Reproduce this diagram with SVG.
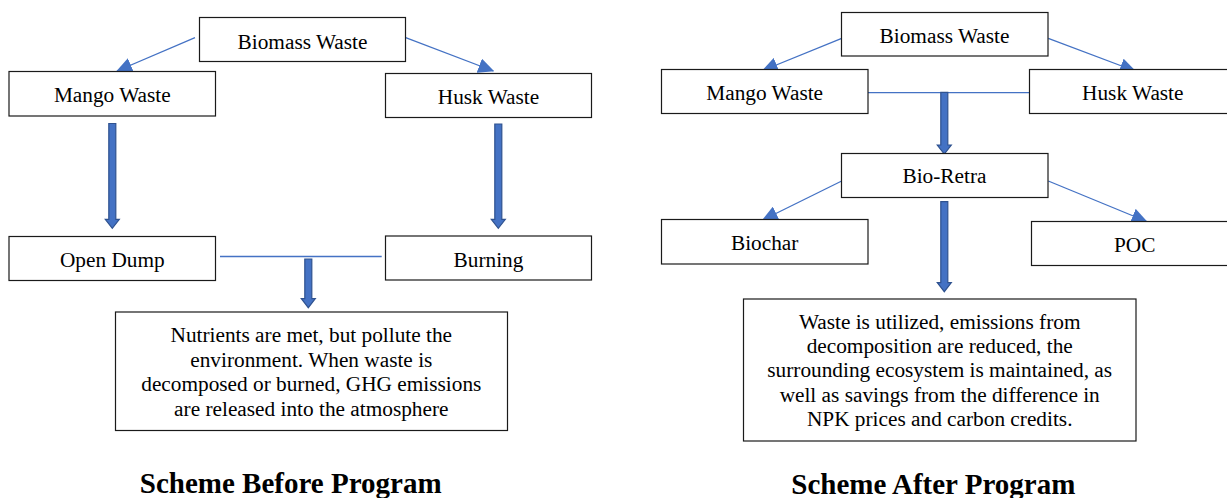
<svg xmlns="http://www.w3.org/2000/svg" width="1227" height="498" viewBox="0 0 1227 498">
<defs>
<style>
.box{fill:#fff;stroke:#1a1a1a;stroke-width:1.2}
.lbl{font-family:'Liberation Serif',Tinos,'DejaVu Serif',serif;font-size:21.3px;fill:#000;text-anchor:middle}
.ttl{font-family:'Liberation Serif',Tinos,'DejaVu Serif',serif;font-size:29px;font-weight:bold;fill:#000;text-anchor:middle}
.thin{stroke:#4472C4;stroke-width:1.3;fill:none}
.thick{fill:#4472C4;stroke:#2F528F;stroke-width:1.2}
</style>
<marker id="ah" viewBox="0 0 16 15" refX="15" refY="7.5" markerWidth="16" markerHeight="15" markerUnits="userSpaceOnUse" orient="auto">
<path d="M0,0 L16,7.5 L0,15 z" fill="#4472C4"/>
</marker>
</defs>
<rect width="1227" height="498" fill="#fff"/>
<g id="connectors">
<line class="thin" x1="195" y1="37.7" x2="117" y2="71" marker-end="url(#ah)"/>
<line class="thin" x1="405.7" y1="37.7" x2="493.3" y2="71" marker-end="url(#ah)"/>
<path class="thick" d="M108.8,123.5 H115.8 V219.3 H119.3 L112.3,228.3 L105.3,219.3 H108.8 Z"/>
<path class="thick" d="M494.8,124 H501.8 V219.3 H505.3 L498.3,228.3 L491.3,219.3 H494.8 Z"/>
<line class="thin" x1="220" y1="256.5" x2="381.7" y2="256.5"/>
<path class="thick" d="M304.8,259 H311.8 V298.7 H315.3 L308.3,307.7 L301.3,298.7 H304.8 Z"/>
<line class="thin" x1="841.7" y1="38.3" x2="762.7" y2="70.5" marker-end="url(#ah)"/>
<line class="thin" x1="1048.3" y1="38.3" x2="1135" y2="71" marker-end="url(#ah)"/>
<line class="thin" x1="868" y1="92.7" x2="1029.5" y2="92.7"/>
<path class="thick" d="M940.8,92.3 H947.8 V145 H951.3 L944.3,154 L937.3,145 H940.8 Z"/>
<line class="thin" x1="841.7" y1="181" x2="762.7" y2="220" marker-end="url(#ah)"/>
<line class="thin" x1="1048.3" y1="181" x2="1146.7" y2="221.5" marker-end="url(#ah)"/>
<path class="thick" d="M940.8,201.7 H947.8 V282.7 H951.3 L944.3,291.7 L937.3,282.7 H940.8 Z"/>
</g>
<g id="biomass-before"><rect class="box" x="199.5" y="17.5" width="206" height="44"/><text class="lbl" x="302.5" y="48.5">Biomass Waste</text></g>
<g id="mango-before"><rect class="box" x="9" y="71.5" width="206.5" height="44.5"/><text class="lbl" x="112.3" y="101.5">Mango Waste</text></g>
<g id="husk-before"><rect class="box" x="385.5" y="73.5" width="206" height="44"/><text class="lbl" x="488.5" y="103.8">Husk Waste</text></g>
<g id="opendump"><rect class="box" x="9" y="236.5" width="206.5" height="44"/><text class="lbl" x="112.3" y="266.7">Open Dump</text></g>
<g id="burning"><rect class="box" x="385.5" y="236" width="206" height="44"/><text class="lbl" x="488.5" y="266.7">Burning</text></g>
<g id="result-before"><rect class="box" x="115.5" y="312" width="392" height="118.5"/>
<text class="lbl" x="311.3" y="341.7">Nutrients are met, but pollute the</text>
<text class="lbl" x="311.3" y="366.5">environment. When waste is</text>
<text class="lbl" x="311.3" y="391.3">decomposed or burned, GHG emissions</text>
<text class="lbl" x="311.3" y="416">are released into the atmosphere</text></g>
<g id="title-before"><text class="ttl" x="290.7" y="493">Scheme Before Program</text></g>
<g id="biomass-after"><rect class="box" x="841.5" y="12.5" width="206.5" height="43.5"/><text class="lbl" x="944.5" y="43.3">Biomass Waste</text></g>
<g id="mango-after"><rect class="box" x="661.5" y="69.5" width="206.5" height="44"/><text class="lbl" x="764.7" y="100">Mango Waste</text></g>
<g id="husk-after"><rect class="box" x="1029.5" y="69.5" width="206.5" height="44"/><text class="lbl" x="1132.8" y="100">Husk Waste</text></g>
<g id="bioretra"><rect class="box" x="841.5" y="153.5" width="206.5" height="44"/><text class="lbl" x="944.5" y="183.3">Bio-Retra</text></g>
<g id="biochar"><rect class="box" x="661.5" y="219.5" width="206.5" height="44.5"/><text class="lbl" x="764.7" y="250">Biochar</text></g>
<g id="poc"><rect class="box" x="1031.5" y="221.5" width="206.5" height="44"/><text class="lbl" x="1134.7" y="251.7">POC</text></g>
<g id="result-after"><rect class="box" x="743.5" y="299" width="392.5" height="142"/>
<text class="lbl" x="939.7" y="328.5">Waste is utilized, emissions from</text>
<text class="lbl" x="939.7" y="352.9">decomposition are reduced, the</text>
<text class="lbl" x="939.7" y="377.3">surrounding ecosystem is maintained, as</text>
<text class="lbl" x="939.7" y="401.7">well as savings from the difference in</text>
<text class="lbl" x="939.7" y="426">NPK prices and carbon credits.</text></g>
<g id="title-after"><text class="ttl" x="933.3" y="494">Scheme After Program</text></g>
</svg>
